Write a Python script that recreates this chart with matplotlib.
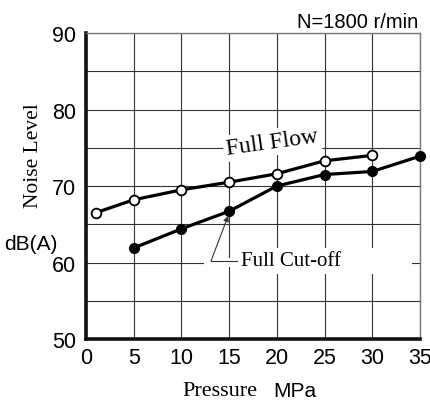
import numpy as np
import matplotlib
matplotlib.use("Agg")
import matplotlib.pyplot as plt
from matplotlib.patches import Rectangle

# pressure (MPa) vs noise level dB(A) at N=1800 r/min
flow_p = [1, 5, 10, 15, 20, 25, 30]
flow_db = [66.5, 68.2, 69.5, 70.5, 71.6, 73.3, 74.0]
cut_p = [5, 10, 15, 20, 25, 30, 35]
cut_db = [61.9, 64.4, 66.7, 70.0, 71.5, 71.9, 73.9]

x_ticks = [0, 5, 10, 15, 20, 25, 30, 35]
y_ticks = [50, 60, 70, 80, 90]

sans = "Liberation Sans"
serif = "Liberation Serif"

fig = plt.figure(figsize=(4.31, 4.02), dpi=100)
ax = fig.add_axes([0.1995, 0.1542, 0.775, 0.7612])

ax.set_xlim(0, 35)
ax.set_ylim(50, 90)
ax.set_xticks(x_ticks)
ax.set_yticks(y_ticks)
ax.set_xticks(np.arange(0, 36, 5), minor=True)
ax.set_yticks(np.arange(50, 91, 5), minor=True)
ax.set_axisbelow(True)
ax.grid(True, which="both", color="#333333", linewidth=0.8)
ax.tick_params(which="both", length=0)
ax.tick_params(axis="x", pad=6)
ax.tick_params(axis="y", pad=7)
for lab in ax.get_xticklabels() + ax.get_yticklabels():
    lab.set_fontfamily(sans)
    lab.set_fontsize(15.5)

for side in ["left", "bottom"]:
    ax.spines[side].set_linewidth(2.6)
    ax.spines[side].set_color("#111111")
for side in ["top", "right"]:
    ax.spines[side].set_linewidth(1.0)
    ax.spines[side].set_color("#777777")

ax.plot(flow_p, flow_db, "-o", color="black", lw=2.3, ms=7,
        mfc="white", mec="black", mew=1.3, zorder=5, clip_on=False)
ax.plot(cut_p, cut_db, "-o", color="black", lw=2.3, ms=7,
        mfc="black", mec="black", zorder=5, clip_on=False)

# white patches where the curve labels sit over the grid
ax.add_patch(Rectangle((15.3, 58.5), 18.9, 3.4, facecolor="white",
                       edgecolor="none", zorder=1))
ax.add_patch(Rectangle((12.4, 59.4), 3.0, 1.2, facecolor="white",
                       edgecolor="none", zorder=1))

ax.text(19.5, 75.7, "Full Flow", family=serif, fontsize=17, rotation=8,
        ha="center", va="center", zorder=4,
        bbox=dict(facecolor="white", edgecolor="none", pad=2))
ax.text(16.2, 60.2, "Full Cut-off", family=serif, fontsize=15,
        ha="left", va="center", zorder=4)

# leader from the label to the 15 MPa cut-off point
ax.plot([13.1, 15.8], [60.2, 60.2], color="#333333", lw=0.8, zorder=6)
ax.annotate("", xy=(cut_p[2] - 0.1, cut_db[2] - 0.6), xytext=(13.1, 60.2),
            arrowprops=dict(arrowstyle="-|>", color="#333333", lw=0.8,
                            mutation_scale=8, shrinkA=0, shrinkB=0),
            zorder=6)

fig.text(0.97, 0.943, "N=1800 r/min", family=sans, fontsize=14.5,
         ha="right", va="center")
fig.text(0.077, 0.612, "Noise Level", family=serif, fontsize=15.5,
         rotation=90, ha="center", va="center")
fig.text(0.072, 0.392, "dB(A)", family=sans, fontsize=15,
         ha="center", va="center")
fig.text(0.51, 0.026, "Pressure", family=serif, fontsize=16,
         ha="center", va="center")
fig.text(0.685, 0.026, "MPa", family=sans, fontsize=15,
         ha="center", va="center")

fig.savefig("out.png", dpi=100)
